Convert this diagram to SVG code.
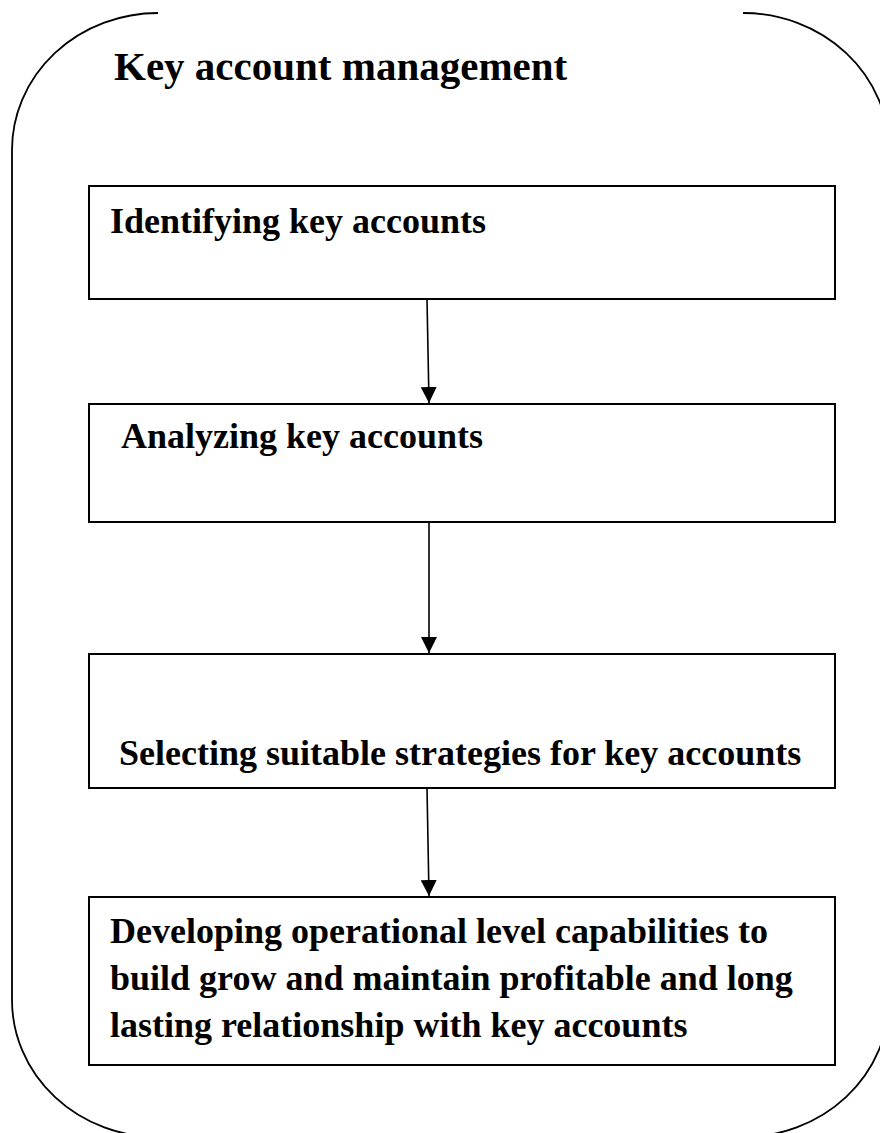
<svg xmlns="http://www.w3.org/2000/svg" width="880" height="1133" viewBox="0 0 880 1133">
<style>
.box{fill:#fff;stroke:#000;stroke-width:2}
.t{font-family:"Liberation Serif","Times New Roman",serif;font-weight:bold;fill:#000}
.bt{font-size:36px}
.conn{stroke:#000;stroke-width:1.6;fill:none}
</style>
<defs>
<marker id="ah" viewBox="0 0 16 16" refX="16" refY="8" markerWidth="16" markerHeight="16" markerUnits="userSpaceOnUse" orient="auto">
<path d="M0,0 L16,8 L0,16 Z" fill="#000"/>
</marker>
</defs>
<rect width="880" height="1133" fill="#fff"/>
<g id="frame">
<path d="M158,13 A146,137 0 0 0 12,150 L12,1000 A146,137 0 0 0 158,1137 L743,1137 A146,137 0 0 0 889,1000 L889,150 A146,137 0 0 0 743,13" fill="none" stroke="#000" stroke-width="1.8"/>
<text class="t" x="114" y="80" font-size="41">Key account management</text>
</g>
<g id="n1">
<rect class="box" x="89" y="186" width="746" height="113"/>
<text class="t bt" x="110" y="233">Identifying key accounts</text>
</g>
<g id="n2">
<rect class="box" x="89" y="404" width="746" height="118"/>
<text class="t bt" x="121" y="448">Analyzing key accounts</text>
</g>
<g id="n3">
<rect class="box" x="89" y="654" width="746" height="134"/>
<text class="t bt" x="119" y="765">Selecting suitable strategies for key accounts</text>
</g>
<g id="n4">
<rect class="box" x="89" y="897" width="746" height="168"/>
<text class="t bt" x="110" y="943">Developing operational level capabilities to</text>
<text class="t bt" x="110" y="990">build grow and maintain profitable and long</text>
<text class="t bt" x="110" y="1037">lasting relationship with key accounts</text>
</g>
<g id="connectors">
<line class="conn" x1="427" y1="299" x2="429" y2="403" marker-end="url(#ah)"/>
<line class="conn" x1="429" y1="522" x2="429" y2="653" marker-end="url(#ah)"/>
<line class="conn" x1="427" y1="788" x2="429" y2="896" marker-end="url(#ah)"/>
</g>
</svg>
